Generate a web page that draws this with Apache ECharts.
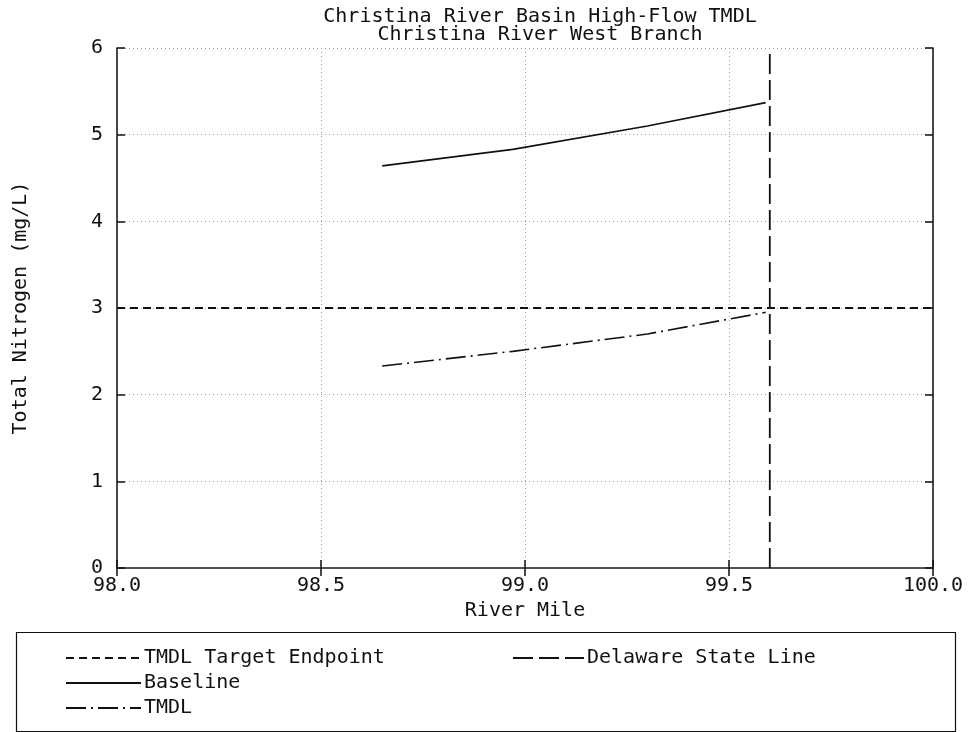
<!DOCTYPE html>
<html>
<head>
<meta charset="utf-8">
<script src="https://cdn.jsdelivr.net/npm/echarts@6/dist/echarts.min.js"></script>
<style>
  html, body { margin: 0; padding: 0; background: #fff; }
  #chart { width: 971px; height: 732px; }
</style>
</head>
<body>
<div id="chart"></div>
<script>
// River mile stations along the West Branch
const riverMile = [98.65, 98.97, 99.3, 99.59];
// Total nitrogen concentrations (mg/L)
const baseline = [4.64, 4.83, 5.10, 5.37];
const tmdl = [2.33, 2.50, 2.70, 2.95];
// Reference lines
const targetEndpoint = 3;
const stateLineMile = 99.6;
const xRange = [98, 100];
const yRange = [0, 6];

const FONT = 'DejaVu Sans Mono';
const FS = 20;
const ink = '#111';

const pairs = (xs, ys) => xs.map((x, i) => [x, ys[i]]);

const chart = echarts.init(document.getElementById('chart'), null, { renderer: 'canvas' });

const axisCommon = {
  type: 'value',
  axisLine: { show: true, lineStyle: { color: ink, width: 1.5 } },
  axisTick: { show: true, inside: true, length: 8, lineStyle: { color: ink, width: 1.5 } },
  splitLine: { show: false }
};

const legendCommon = {
  orient: 'vertical', top: 648, padding: 0,
  itemHeight: 14, itemGap: 5,
  textStyle: { fontFamily: FONT, fontSize: FS, color: ink, padding: [0, 0, 0, -2] },
  itemStyle: { opacity: 0 },
  selectedMode: false
};

chart.setOption({
  animation: false,
  backgroundColor: '#fff',
  color: [ink, ink, ink, ink],
  title: {
    text: 'Christina River Basin High-Flow TMDL\nChristina River West Branch',
    left: 535,
    textAlign: 'center',
    top: 3,
    textStyle: { fontFamily: FONT, fontSize: FS, fontWeight: 'normal', color: ink, lineHeight: 18 }
  },
  grid: { left: 117, right: 38, top: 48, bottom: 164, containLabel: false },
  xAxis: [
    Object.assign({}, axisCommon, {
      min: xRange[0], max: xRange[1], interval: 0.5,
      name: 'River Mile', nameLocation: 'middle', nameGap: 33,
      nameTextStyle: { fontFamily: FONT, fontSize: FS, color: ink },
      axisLabel: { fontFamily: FONT, fontSize: FS, color: ink, margin: 8,
        formatter: v => v.toFixed(1) },
      splitLine: { show: true, lineStyle: { color: '#9a9a9a', type: [1, 3], width: 1 } }
    }),
    Object.assign({}, axisCommon, {
      position: 'top', min: xRange[0], max: xRange[1], interval: 0.5,
      axisLabel: { show: false },
      axisLine: { show: true, lineStyle: { color: '#555', width: 1.5 } }
    })
  ],
  yAxis: [
    Object.assign({}, axisCommon, {
      min: yRange[0], max: yRange[1], interval: 1,
      name: 'Total Nitrogen (mg/L)', nameLocation: 'middle', nameGap: 86,
      nameTextStyle: { fontFamily: FONT, fontSize: FS, color: ink },
      axisLabel: { fontFamily: FONT, fontSize: FS, color: ink, margin: 14 },
      splitLine: { show: true, lineStyle: { color: '#9a9a9a', type: [1, 3], width: 1 } }
    }),
    Object.assign({}, axisCommon, {
      position: 'right', min: yRange[0], max: yRange[1], interval: 1,
      axisLabel: { show: false }
    })
  ],
  legend: [
    Object.assign({}, legendCommon, {
      left: 65, itemWidth: 75,
      data: ['TMDL Target Endpoint', 'Baseline', 'TMDL']
    }),
    Object.assign({}, legendCommon, {
      left: 512, itemWidth: 71,
      data: ['Delaware State Line']
    })
  ],
  graphic: [
    {
      type: 'rect', left: 14, top: 630,
      shape: { width: 939, height: 99 },
      style: { fill: null, stroke: ink, lineWidth: 1.2 },
      silent: true
    }
  ],
  series: [
    {
      name: 'TMDL Target Endpoint', type: 'line', symbol: 'none',
      data: [[xRange[0], targetEndpoint], [xRange[1], targetEndpoint]],
      lineStyle: { color: ink, width: 1.8, type: [8, 5] }
    },
    {
      name: 'Baseline', type: 'line', symbol: 'none',
      data: pairs(riverMile, baseline),
      lineStyle: { color: ink, width: 1.6, type: 'solid' }
    },
    {
      name: 'TMDL', type: 'line', symbol: 'none',
      data: pairs(riverMile, tmdl),
      lineStyle: { color: ink, width: 1.6, type: [20, 5, 2, 5] }
    },
    {
      name: 'Delaware State Line', type: 'line', symbol: 'none',
      data: [[stateLineMile, yRange[0]], [stateLineMile, yRange[1]]],
      lineStyle: { color: ink, width: 1.8, type: [20, 6] }
    }
  ]
});
</script>
</body>
</html>
